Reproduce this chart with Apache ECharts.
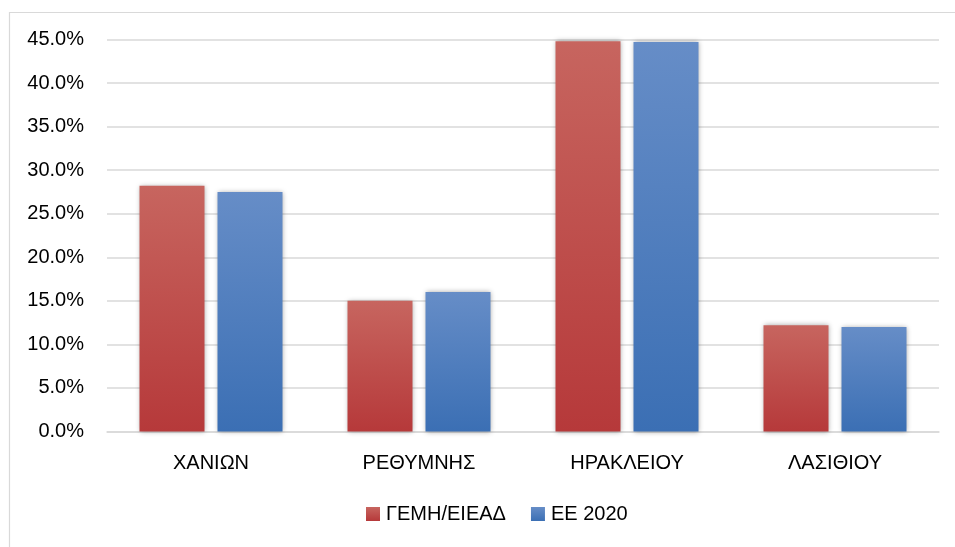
<!DOCTYPE html>
<html>
<head>
<meta charset="utf-8">
<script src="https://cdn.jsdelivr.net/npm/echarts@6/dist/echarts.min.js"></script>
<style>html,body{margin:0;padding:0;background:#fff}#c{width:955px;height:547px}</style>
</head>
<body>
<div id="c"></div>
<script>
const categories = ['ΧΑΝΙΩΝ', 'ΡΕΘΥΜΝΗΣ', 'ΗΡΑΚΛΕΙΟΥ', 'ΛΑΣΙΘΙΟΥ'];
const seriesNames = ['ΓΕΜΗ/ΕΙΕΑΔ', 'ΕΕ 2020'];
const gemiValues = [28.2, 15.0, 44.8, 12.2];
const ee2020Values = [27.5, 16.0, 44.7, 12.0];

const FONT = '"Liberation Sans", Arial, sans-serif';
function grad(top, bottom) {
  return new echarts.graphic.LinearGradient(0, 0, 0, 1, [
    { offset: 0, color: top }, { offset: 1, color: bottom }
  ]);
}
const redG = grad('#c7655f', '#b6393a');
const blueG = grad('#668dc7', '#3b6fb4');

const chart = echarts.init(document.getElementById('c'), null, { renderer: 'canvas' });
chart.setOption({
  backgroundColor: '#fff',
  animation: false,
  graphic: [{
    type: 'rect', left: 7, top: 10, silent: true,
    shape: { width: 1000, height: 600 },
    style: { fill: 'none', stroke: '#d9d9d9', lineWidth: 1.2 }
  }],
  grid: { left: 107, right: 16, top: 39.5, bottom: 115.5, containLabel: false },
  legend: {
    bottom: 18, left: 361,
    itemWidth: 14, itemHeight: 14, itemGap: 25,
    icon: 'rect',
    textStyle: { fontFamily: FONT, fontSize: 20, color: '#000', padding: [0, 0, 0, 1] },
    data: [
      { name: seriesNames[0], itemStyle: { color: redG } },
      { name: seriesNames[1], itemStyle: { color: blueG } }
    ]
  },
  xAxis: {
    type: 'category', data: categories,
    axisLine: { show: true, lineStyle: { color: '#d9d9d9', width: 1.5 } },
    axisTick: { show: false },
    axisLabel: { fontFamily: FONT, fontSize: 20, color: '#000', margin: 22 }
  },
  yAxis: {
    type: 'value', min: 0, max: 45, interval: 5,
    axisLine: { show: false }, axisTick: { show: false },
    splitLine: { lineStyle: { color: '#d9d9d9', width: 1.5 } },
    axisLabel: { fontFamily: FONT, fontSize: 20, color: '#000', margin: 23,
      formatter: v => v.toFixed(1) + '%' }
  },
  series: [
    { name: seriesNames[0], type: 'bar', data: gemiValues, barWidth: 65, barGap: '20%',
      itemStyle: { color: redG, shadowBlur: 5, shadowColor: 'rgba(0,0,0,0.35)', shadowOffsetX: 0, shadowOffsetY: 0 } },
    { name: seriesNames[1], type: 'bar', data: ee2020Values, barWidth: 65,
      itemStyle: { color: blueG, shadowBlur: 5, shadowColor: 'rgba(0,0,0,0.35)', shadowOffsetX: 0, shadowOffsetY: 0 } }
  ]
});
</script>
</body>
</html>
